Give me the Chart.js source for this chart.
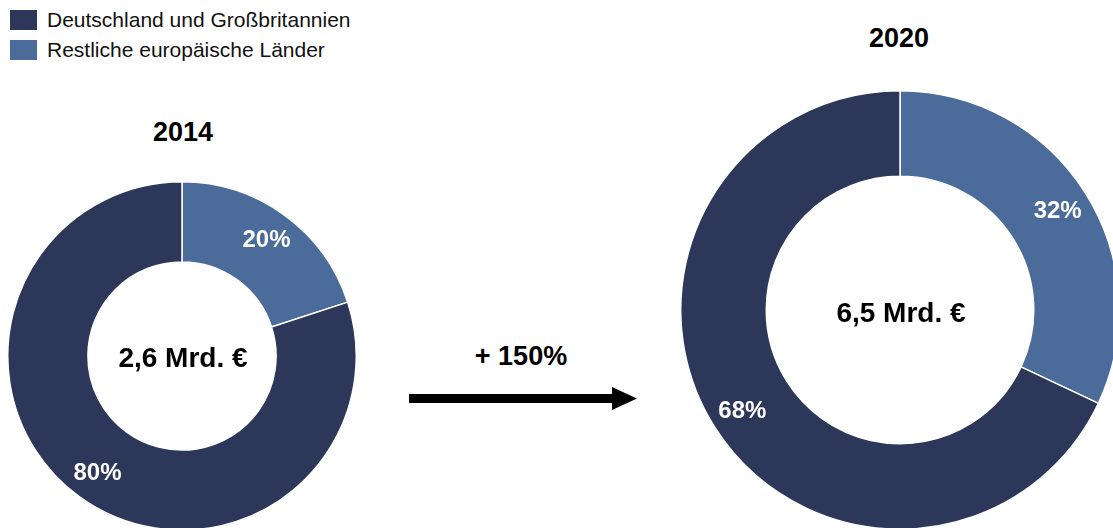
<!DOCTYPE html>
<html>
<head>
<meta charset="utf-8">
<script src="https://cdn.jsdelivr.net/npm/chart.js@4"></script>
<style>
  html, body { margin: 0; padding: 0; width: 1113px; height: 528px; overflow: hidden; background: #fff; font-family: 'Liberation Sans', Arial, sans-serif; }
  .box { position: absolute; }
  .title { position: absolute; font-weight: bold; font-size: 27px; color: #000; transform: translate(-50%, -50%); white-space: nowrap; }
  #legend { position: absolute; left: 10px; top: 5px; font-size: 21px; color: #111; }
  #legend div { display: flex; align-items: center; height: 30px; }
  #legend span.sw { display: inline-block; width: 27px; height: 20px; margin-right: 10px; }
</style>
</head>
<body>
<div id="legend"></div>
<div class="title" style="left:183px; top:132px;">2014</div>
<div class="title" style="left:899px; top:38px;">2020</div>
<div class="title" style="left:521px; top:356px;">+ 150%</div>
<svg class="box" style="left:0; top:0;" width="1113" height="528">
  <rect x="409" y="394" width="206" height="9" fill="#000"/>
  <polygon points="612,387 637,398.5 612,410" fill="#000"/>
</svg>
<div class="box" style="left:7px; top:181px; width:350px; height:350px;"><canvas id="chart2014"></canvas></div>
<div class="box" style="left:680px; top:90px; width:440px; height:440px;"><canvas id="chart2020"></canvas></div>
<script>
// data
const categories = ['Deutschland und Großbritannien', 'Restliche europäische Länder'];
const colors = ['#2C375A', '#4B6B9A'];
const share2014 = [80, 20];
const share2020 = [68, 32];
const total2014 = '2,6 Mrd. €';
const total2020 = '6,5 Mrd. €';

// legend
const legendEl = document.getElementById('legend');
categories.forEach(function(c, i) {
  const row = document.createElement('div');
  row.innerHTML = '<span class="sw" style="background:' + colors[i] + '"></span>' + c;
  legendEl.appendChild(row);
});

// percentage labels inside the ring + total in the middle
const ringLabels = {
  id: 'ringLabels',
  afterDatasetsDraw(chart, args, opts) {
    const ctx = chart.ctx;
    const meta = chart.getDatasetMeta(0);
    ctx.save();
    ctx.textAlign = 'center';
    ctx.textBaseline = 'middle';
    meta.data.forEach(function(arc, i) {
      const mid = (arc.startAngle + arc.endAngle) / 2;
      const r = arc.innerRadius + (arc.outerRadius - arc.innerRadius) * opts.pos;
      ctx.font = 'bold 24px "Liberation Sans", Arial, sans-serif';
      ctx.fillStyle = '#fff';
      ctx.fillText(chart.data.datasets[0].data[i] + '%', arc.x + Math.cos(mid) * r, arc.y + Math.sin(mid) * r + 1);
    });
    const a = meta.data[0];
    ctx.font = 'bold 28px "Liberation Sans", Arial, sans-serif';
    ctx.fillStyle = '#000';
    ctx.fillText(opts.total, a.x + 1, a.y + opts.dy);
    ctx.restore();
  }
};

function makeRing(id, shares, total, cutout, pos, dy) {
  // light segment first so it starts at 12 o'clock going clockwise
  new Chart(document.getElementById(id), {
    type: 'doughnut',
    data: {
      labels: categories.slice().reverse(),
      datasets: [{
        data: shares.slice().reverse(),
        backgroundColor: colors.slice().reverse(),
        borderColor: '#fff', borderWidth: 1.5
      }]
    },
    options: {
      responsive: true, maintainAspectRatio: false, animation: false,
      cutout: cutout,
      layout: { padding: 0 },
      plugins: {
        legend: { display: false },
        tooltip: { enabled: false },
        ringLabels: { total: total, pos: pos, dy: dy }
      }
    },
    plugins: [ringLabels]
  });
}

makeRing('chart2014', share2014, total2014, '54%', 0.62, 3);
makeRing('chart2020', share2020, total2020, '61%', 0.62, 4);
</script>
</body>
</html>
